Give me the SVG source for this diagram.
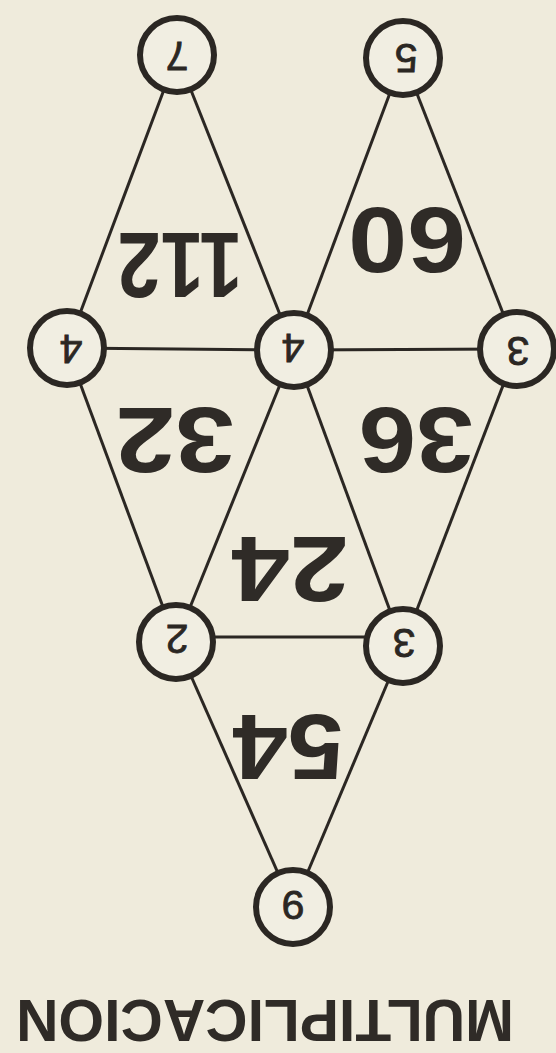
<svg xmlns="http://www.w3.org/2000/svg" width="556" height="1053" viewBox="0 0 556 1053">
<style>
.bg{fill:#efebdc}
.edge{stroke:#2b2723;stroke-width:3;fill:none}
.node circle{fill:#f1eee2;stroke:#2b2723;stroke-width:6}
.node text{font-family:"Liberation Sans",Arial,sans-serif;font-size:41px;fill:#2b2723;text-anchor:middle;stroke:#2b2723;stroke-width:0.8}
.prod{font-family:"Liberation Sans",Arial,sans-serif;font-weight:bold;font-size:92px;fill:#2f2b27;text-anchor:middle}
.title{font-family:"Liberation Sans",Arial,sans-serif;font-weight:bold;font-size:60px;fill:#2f2b27;text-anchor:middle}
</style>
<rect class="bg" x="0" y="0" width="556" height="1053"/>
<g id="connectors">
<line class="edge" x1="177" y1="55" x2="67" y2="348"/>
<line class="edge" x1="177" y1="55" x2="294" y2="350"/>
<line class="edge" x1="403" y1="58" x2="294" y2="350"/>
<line class="edge" x1="403" y1="58" x2="517" y2="349"/>
<line class="edge" x1="67" y1="348" x2="294" y2="350"/>
<line class="edge" x1="294" y1="350" x2="517" y2="349"/>
<line class="edge" x1="67" y1="348" x2="176" y2="642"/>
<line class="edge" x1="294" y1="350" x2="176" y2="642"/>
<line class="edge" x1="294" y1="350" x2="403" y2="646"/>
<line class="edge" x1="517" y1="349" x2="403" y2="646"/>
<line class="edge" x1="176" y1="637" x2="403" y2="637"/>
<line class="edge" x1="176" y1="642" x2="293" y2="907"/>
<line class="edge" x1="403" y1="646" x2="293" y2="907"/>
</g>
<g id="node-7" class="node"><circle cx="177" cy="55" r="37"/><text transform="translate(177,42) rotate(180)">7</text></g>
<g id="node-5" class="node"><circle cx="403" cy="58" r="37"/><text transform="translate(406,44) rotate(180)">5</text></g>
<g id="node-4a" class="node"><circle cx="67" cy="348" r="37"/><text transform="translate(71,335) rotate(180)">4</text></g>
<g id="node-4b" class="node"><circle cx="294" cy="350" r="37"/><text transform="translate(293,334) rotate(180)">4</text></g>
<g id="node-3a" class="node"><circle cx="517" cy="349" r="37"/><text transform="translate(518,337) rotate(180)">3</text></g>
<g id="node-2" class="node"><circle cx="176" cy="642" r="37"/><text transform="translate(177,625) rotate(180)">2</text></g>
<g id="node-3b" class="node"><circle cx="403" cy="646" r="37"/><text transform="translate(404,629) rotate(180)">3</text></g>
<g id="node-9" class="node"><circle cx="293" cy="907" r="37"/><text transform="translate(293,891) rotate(180)">9</text></g>
<g id="products">
<text class="prod" transform="translate(180,233) rotate(180)" textLength="125" lengthAdjust="spacingAndGlyphs">112</text>
<text class="prod" transform="translate(407,208) rotate(180)" textLength="118" lengthAdjust="spacingAndGlyphs">60</text>
<text class="prod" transform="translate(175,408) rotate(180)" textLength="119" lengthAdjust="spacingAndGlyphs">32</text>
<text class="prod" transform="translate(416,408) rotate(180)" textLength="115" lengthAdjust="spacingAndGlyphs">36</text>
<text class="prod" transform="translate(290,537) rotate(180)" textLength="117" lengthAdjust="spacingAndGlyphs">24</text>
<text class="prod" transform="translate(288,715) rotate(180)" textLength="111" lengthAdjust="spacingAndGlyphs">54</text>
</g>
<text class="title" transform="translate(265,1000) rotate(180)" textLength="498" lengthAdjust="spacingAndGlyphs">MULTIPLICACION</text>
</svg>
